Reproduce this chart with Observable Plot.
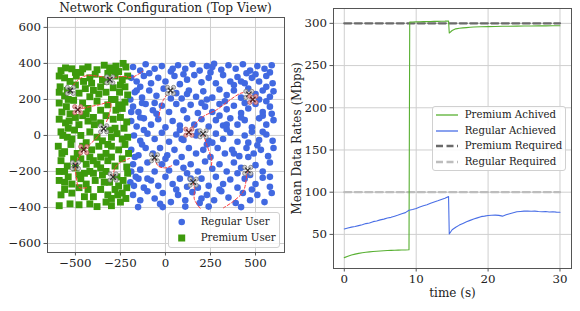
<!DOCTYPE html>
<html><head><meta charset="utf-8">
<script src="https://cdn.jsdelivr.net/npm/d3@7"></script>
<script src="https://cdn.jsdelivr.net/npm/@observablehq/plot@0.6"></script>
<style>
body{margin:0;background:#fff;}
#wrap{position:relative;width:580px;height:311px;font-family:"DejaVu Serif",serif;color:#222;overflow:hidden;}
#left,#right{position:absolute;top:0;}
#left{left:0}#right{left:290px}
.title{position:absolute;top:0px;left:17px;width:297px;text-align:center;font-size:12.2px;line-height:16px;}
.legend{position:absolute;background:rgba(255,255,255,0.85);border:1px solid #d0d0d0;border-radius:3px;font-size:10.2px;box-sizing:border-box;}
.legend .row{position:absolute;left:0;height:14px;line-height:14px;white-space:nowrap;}
.legend svg{position:absolute;top:0;}
.legend span{position:absolute;}
</style></head>
<body><div id="wrap">
<div id="left"></div><div id="right"></div>
<div class="title">Network Configuration (Top View)</div>
<div class="legend" id="legL" style="left:168px;top:212px;width:112px;height:36px;"></div>
<div class="legend" id="legR" style="left:432px;top:106px;width:134px;height:65px;"></div>
</div>
<script>
// ---------------- data: left panel ----------------
const premiumUsers = [
[-580,360],[-555,375],[-520,370],[-470,350],[-430,380],[-380,365],[-340,390],[-310,375],[-275,385],[-235,400],[-220,380],[-260,355],
[-590,330],[-560,320],[-530,300],[-495,330],[-455,300],[-420,320],[-390,340],[-350,310],[-320,345],[-280,330],[-240,310],[-210,330],[-500,280],
[-585,270],[-545,250],[-480,235],[-445,260],[-400,250],[-360,270],[-330,240],[-290,265],[-255,240],[-225,270],[-210,225],[-560,220],[-420,215],
[-590,180],[-550,160],[-510,195],[-460,180],[-430,150],[-380,190],[-300,200],[-260,170],[-225,185],[-575,130],[-530,120],[-275,140],
[-590,90],[-555,70],[-500,100],[-460,110],[-430,80],[-395,60],[-330,110],[-290,90],[-250,100],[-215,75],[-360,70],[-540,40],
[-580,20],[-545,-10],[-505,30],[-470,0],[-420,20],[-380,-10],[-310,30],[-270,10],[-230,40],[-210,-10],[-350,-30],[-440,-40],
[-595,-60],[-560,-90],[-525,-50],[-490,-100],[-410,-80],[-370,-60],[-330,-100],[-300,-60],[-260,-80],[-225,-50],[-205,-100],[-470,-130],
[-580,-140],[-545,-170],[-510,-130],[-440,-160],[-400,-140],[-360,-180],[-320,-140],[-280,-170],[-240,-130],[-215,-175],[-560,-200],[-420,-200],
[-590,-250],[-540,-230],[-470,-240],[-450,-210],[-390,-250],[-350,-220],[-310,-260],[-270,-230],[-235,-250],[-210,-210],[-560,-260],[-330,-200],
[-580,-330],[-520,-320],[-480,-290],[-430,-300],[-400,-340],[-360,-300],[-320,-330],[-280,-300],[-240,-320],[-215,-290],[-450,-340],[-300,-350],
[-590,-390],[-530,-380],[-480,-385],[-420,-380],[-380,-395],[-330,-370],[-300,-390],[-250,-370],
[-570,0],[-520,-20],[-480,60],[-440,120],[-400,100],[-360,140],[-320,170],[-280,200],[-240,150],[-540,200],[-500,-180],[-460,-60],[-420,-120],
[-380,-160],[-340,-260],[-300,-120],[-260,-280],[-220,-350],[-590,-200],[-560,-300],[-520,-270],[-480,-220],[-440,-270],[-400,-210],[-360,-120],
[-320,-50],[-280,40],[-240,-20],[-500,350],[-460,370],[-410,290],[-370,230],[-330,300],[-290,360],[-250,280],[-590,240],[-575,-100],[-535,80],
[-300,-10],[-265,-330]
];
const regularUsers = [
[-180,380],[-140,360],[-110,395],[-60,370],[-20,385],[30,355],[70,390],[110,370],[150,395],[190,360],[230,385],[270,398],[310,365],[350,390],[390,370],[430,395],[470,360],[510,385],[550,370],[590,390],[-90,345],[250,350],[450,345],
[-190,320],[-160,300],[-120,330],[-80,290],[-40,320],[0,300],[50,330],[80,285],[120,310],[160,335],[200,295],[240,320],[280,290],[320,335],[360,300],[400,325],[440,290],[480,320],[520,300],[560,330],[595,290],[-140,270],[100,340],[380,280],
[-170,240],[-130,210],[-90,250],[-50,220],[-10,260],[60,235],[90,205],[130,250],[170,215],[210,245],[260,210],[300,255],[340,225],[380,250],[420,210],[460,260],[500,230],[540,250],[580,215],[600,245],[-195,200],[30,205],[230,200],[520,200],[560,190],
[-180,160],[-150,130],[-110,175],[-70,140],[-20,165],[20,130],[60,175],[100,140],[140,170],[180,125],[220,160],[260,130],[300,175],[340,145],[380,165],[420,125],[460,150],[500,175],[540,130],[580,160],[-130,180],[200,180],[440,180],[590,120],
[-190,80],[-160,50],[-120,95],[-80,60],[-40,90],[0,45],[40,80],[80,55],[120,95],[160,60],[200,90],[240,50],[280,85],[320,55],[360,95],[400,60],[440,85],[480,45],[520,95],[560,60],[600,85],[-140,100],[300,110],[540,110],
[-175,0],[-140,-30],[-100,10],[-60,-20],[-20,15],[20,-35],[60,5],[100,-25],[170,0],[240,-30],[280,10],[320,-20],[360,15],[400,-35],[440,0],[480,20],[520,-25],[560,5],[595,-30],[-120,30],[80,30],[340,35],[460,-40],
[-190,-80],[-150,-110],[-110,-70],[-70,-100],[-30,-70],[10,-110],[50,-80],[90,-120],[130,-70],[170,-100],[210,-80],[250,-120],[290,-70],[330,-100],[370,-80],[410,-115],[450,-70],[490,-100],[530,-80],[570,-115],[600,-70],[-130,-50],[230,-50],[510,-55],
[-180,-160],[-140,-190],[-100,-150],[-60,-200],[-20,-160],[20,-195],[60,-150],[100,-180],[140,-160],[180,-200],[220,-145],[260,-185],[300,-160],[340,-200],[380,-150],[420,-180],[500,-165],[540,-200],[580,-150],[-190,-200],[120,-210],[400,-210],
[-195,-260],[-175,-280],[-150,-240],[-120,-290],[-80,-250],[-40,-280],[0,-230],[40,-270],[80,-240],[120,-285],[200,-240],[240,-280],[280,-230],[320,-270],[360,-245],[400,-290],[440,-240],[500,-270],[540,-235],[580,-285],[-165,-230],[180,-290],[480,-300],
[-180,-330],[-140,-360],[-100,-310],[-60,-350],[-15,-320],[30,-370],[70,-330],[110,-360],[150,-315],[190,-375],[230,-330],[270,-360],[310,-310],[350,-345],[390,-375],[430,-320],[470,-360],[510,-330],[550,-370],[590,-320],[-152,-398],[-15,-398],[110,-395],[240,-395],[420,-398],
[-160,250],[-60,180],[40,370],[120,230],[260,380],[340,60],[420,300],[500,340],[580,350],[-100,-240],[0,-130],[140,-240],[300,-300],[460,-120],[580,-230],[-170,-120],[60,-300],[260,-40],[380,-100],[540,20],[-50,120],[180,20],[420,100],[560,270],[-190,130],[-30,-380],[330,190],[470,-220],[90,-20],[200,-350]
];
const idleDrones = [[-528,250],[-309,309],[-343,37],[28,250],[209,9],[463,228],[-61,-124],[-500,-167],[-291,-231],[154,-259],[457,-194]];
const activeDrones = [[-487,143],[-454,-79],[130,18],[485,200]];
const trajectories = [
  [[-528,250],[-495,300],[-472,318],[-435,333],[-380,330],[-306,320],[-230,328],[-190,322],[-150,340],[-126,356]],
  [[-487,143],[-420,160],[-370,170],[-306,182],[-306,143],[-318,100],[-330,70]],
  [[-343,37],[-380,-10],[-420,-50],[-454,-79]],
  [[-454,-79],[-480,-120],[-500,-167],[-495,-230],[-480,-289],[-430,-289]],
  [[-291,-231],[-280,-180],[-250,-150],[-200,-128]],
  [[28,250],[-10,200],[-28,150],[-37,100]],
  [[130,18],[170,70],[211,106],[285,143],[359,198],[420,235],[463,240]],
  [[209,9],[229,-50],[257,-143],[252,-180]],
  [[154,-259],[161,-300],[161,-356],[198,-411]],
  [[457,-194],[452,-217],[433,-309],[378,-365],[322,-402]],
  [[-61,-124],[-40,-170],[0,-180],[35,-168]]
];
const xTicksL = [-500,-250,0,250,500];
const yTicksL = [-600,-400,-200,0,200,400,600];

// ---------------- data: right panel ----------------
const timePremium = [0,0.5,1,1.5,2,2.5,3,3.5,4,4.5,5,5.5,6,6.5,7,7.5,8,8.5,9.0,9.1,9.5,10,10.5,11,11.5,12,12.5,13,13.5,14,14.5,14.6,15,15.5,16,16.5,17,17.5,18,19,20,21,22,23,24,25,26,27,28,29,30];
const premiumAchieved = [22.5,24,25.5,26.6,27.5,28.2,28.8,29.3,29.7,30.1,30.4,30.7,30.9,31.1,31.3,31.4,31.5,31.6,31.8,301.5,301.6,301.8,301.9,302.0,302.1,302.2,302.3,302.4,302.5,302.6,302.8,288.5,291.5,293.5,294.2,294.6,295,295.3,295.6,295.9,296.1,296.3,296.5,296.6,296.7,296.8,296.9,297,297,297.1,297.2];
const timeRegular = [0,0.5,1,1.5,2,2.5,3,3.5,4,4.5,5,5.5,6,6.5,7,7.5,8,8.5,9,9.5,10,10.5,11,11.5,12,12.5,13,13.5,14,14.5,14.6,15,15.5,16,16.5,17,17.5,18,18.5,19,19.5,20,20.5,21,21.5,22,22.5,23,23.5,24,24.5,25,25.5,26,26.5,27,27.5,28,28.5,29,29.5,30];
const regularAchieved = [56.5,57.6,58.6,59.3,60.4,61.5,62.8,63.5,65.1,65.8,67.2,68.1,69.4,70.2,71.6,72.9,74.5,75.8,78.5,79.5,80.6,82.4,83.9,85.2,86.9,88.4,89.8,91.4,92.8,94.8,50.5,55.5,58.5,61,63,65,66.6,68.3,69.6,71,71.6,72.4,72.6,72.8,72.5,71.6,73.2,74.5,75.6,76.8,77.2,77.6,77.8,77.5,77.6,77.1,76.9,77.1,76.6,76.8,76.4,76.2];
const timeRequired = [0,30];
const premiumRequired = [300,300];
const regularRequired = [100,100];
const xTicksR = [0,10,20,30];
const yTicksR = [50,100,150,200,250,300];

// ---------------- colors ----------------
const cRegular = "#4169e1", cPremium = "#3d9a0c", cPremLine = "#58b032", cRegLine = "#4a6fe6";
const cPremReq = "#6a6a6a", cRegReq = "#bdbdbd", cGrid = "#cfcfcf", cFrame = "#555";

const font = {fontFamily:"DejaVu Serif", fontSize:"11.8px", color:"#222", background:"transparent", overflow:"visible"};

// ---------------- left plot ----------------
const rotor = (dx,dy,fill,stroke,data) => Plot.dot(data,{x:d=>d[0],y:d=>d[1],dx,dy,r:2.1,fill,stroke,strokeWidth:0.8,fillOpacity:0.9});
const droneMarks = (data, fill, stroke, body) => [
  rotor(-3,-3,fill,stroke,data), rotor(3,-3,fill,stroke,data), rotor(-3,3,fill,stroke,data), rotor(3,3,fill,stroke,data),
  Plot.dot(data,{x:d=>d[0],y:d=>d[1],symbol:"times",r:2.6,stroke:body,strokeWidth:1.3})
];
const trajRows = trajectories.flatMap((tr,i)=>tr.map(p=>({id:i,x:p[0],y:p[1]})));

const left = Plot.plot({
  width:290, height:311, marginLeft:47, marginRight:6, marginTop:17, marginBottom:59,
  style: font,
  x:{domain:[-655,661], ticks:xTicksL, label:null},
  y:{domain:[-650,655], ticks:yTicksL, label:null},
  marks:[
    Plot.ruleX(xTicksL,{stroke:cGrid}),
    Plot.ruleY(yTicksL,{stroke:cGrid}),
    Plot.dot(regularUsers,{x:d=>d[0],y:d=>d[1],r:3.3,fill:cRegular}),
    Plot.dot(premiumUsers,{x:d=>d[0],y:d=>d[1],r:3.9,symbol:"square",fill:cPremium}),
    Plot.line(trajRows,{x:"x",y:"y",z:"id",stroke:"#ff3b3b",strokeWidth:1,strokeDasharray:"3,2",curve:"catmull-rom"}),
    ...droneMarks(idleDrones,"#d0d0d0","#777","#333"),
    ...droneMarks(activeDrones,"#f0a0a0","#b46060","#552222"),
    Plot.axisX({ticks:xTicksL,tickSize:3.5,tickPadding:3,stroke:cFrame,label:null}),
    Plot.axisY({ticks:yTicksL,tickSize:3.5,tickPadding:3,stroke:cFrame,label:null}),
    Plot.frame({stroke:cFrame})
  ]
});
document.getElementById("left").append(left);

// ---------------- right plot ----------------
const prem = timePremium.map((t,i)=>({t,v:premiumAchieved[i]}));
const reg = timeRegular.map((t,i)=>({t,v:regularAchieved[i]}));
const preq = timeRequired.map((t,i)=>({t,v:premiumRequired[i]}));
const rreq = timeRequired.map((t,i)=>({t,v:regularRequired[i]}));

const right = Plot.plot({
  width:290, height:311, marginLeft:43, marginRight:9, marginTop:8, marginBottom:43,
  style: font,
  x:{domain:[-1.5,31.6], ticks:xTicksR, label:null},
  y:{domain:[9.6,317.6], ticks:yTicksR, label:null},
  marks:[
    Plot.ruleX(xTicksR,{stroke:cGrid}),
    Plot.ruleY(yTicksR,{stroke:cGrid}),
    Plot.line(preq,{x:"t",y:"v",stroke:cPremReq,strokeWidth:2.3,strokeDasharray:"7,3.5"}),
    Plot.line(rreq,{x:"t",y:"v",stroke:cRegReq,strokeWidth:2.3,strokeDasharray:"7,3.5"}),
    Plot.line(prem,{x:"t",y:"v",stroke:cPremLine,strokeWidth:1.1}),
    Plot.line(reg,{x:"t",y:"v",stroke:cRegLine,strokeWidth:1.1}),
    Plot.axisX({ticks:xTicksR,tickSize:3.5,tickPadding:3,stroke:cFrame,label:null}),
    Plot.axisY({ticks:yTicksR,tickSize:3.5,tickPadding:3,stroke:cFrame,label:null}),
    Plot.text(["Mean Data Rates (Mbps)"],{frameAnchor:"left",textAnchor:"middle",dx:-36,rotate:-90,fontSize:12,fill:"#222"}),
    Plot.text(["time (s)"],{frameAnchor:"bottom",textAnchor:"middle",dy:28,fontSize:12,fill:"#222"}),
    Plot.frame({stroke:cFrame})
  ]
});
document.getElementById("right").append(right);

// ---------------- legends ----------------
function legend(id, items, top0, step, swW, textX){
  const el = document.getElementById(id);
  items.forEach((it,i)=>{
    const row = document.createElement("div");
    row.className="row"; row.style.top=(top0+i*step)+"px"; row.style.width="100%";
    row.innerHTML = `<svg width="${swW+4}" height="14" style="left:2px">${it.svg}</svg><span style="left:${textX}px">${it.label}</span>`;
    el.append(row);
  });
}
legend("legL",[
  {label:"Regular User", svg:`<circle cx="10.7" cy="7" r="3.3" fill="${cRegular}"/>`},
  {label:"Premium User", svg:`<rect x="7.2" y="3.5" width="7" height="7" fill="${cPremium}"/>`}
], 1.7, 16, 22, 31.7);
legend("legR",[
  {label:"Premium Achived", svg:`<line x1="1" x2="23" y1="7" y2="7" stroke="${cPremLine}" stroke-width="1.3"/>`},
  {label:"Regular Achieved", svg:`<line x1="1" x2="23" y1="7" y2="7" stroke="${cRegLine}" stroke-width="1.3"/>`},
  {label:"Premium Required", svg:`<line x1="1" x2="23" y1="7" y2="7" stroke="${cPremReq}" stroke-width="2.3" stroke-dasharray="7,3.5"/>`},
  {label:"Regular Required", svg:`<line x1="1" x2="23" y1="7" y2="7" stroke="${cRegReq}" stroke-width="2.3" stroke-dasharray="7,3.5"/>`}
], 1.3, 15.5, 24, 31.7);
</script>
</body></html>
